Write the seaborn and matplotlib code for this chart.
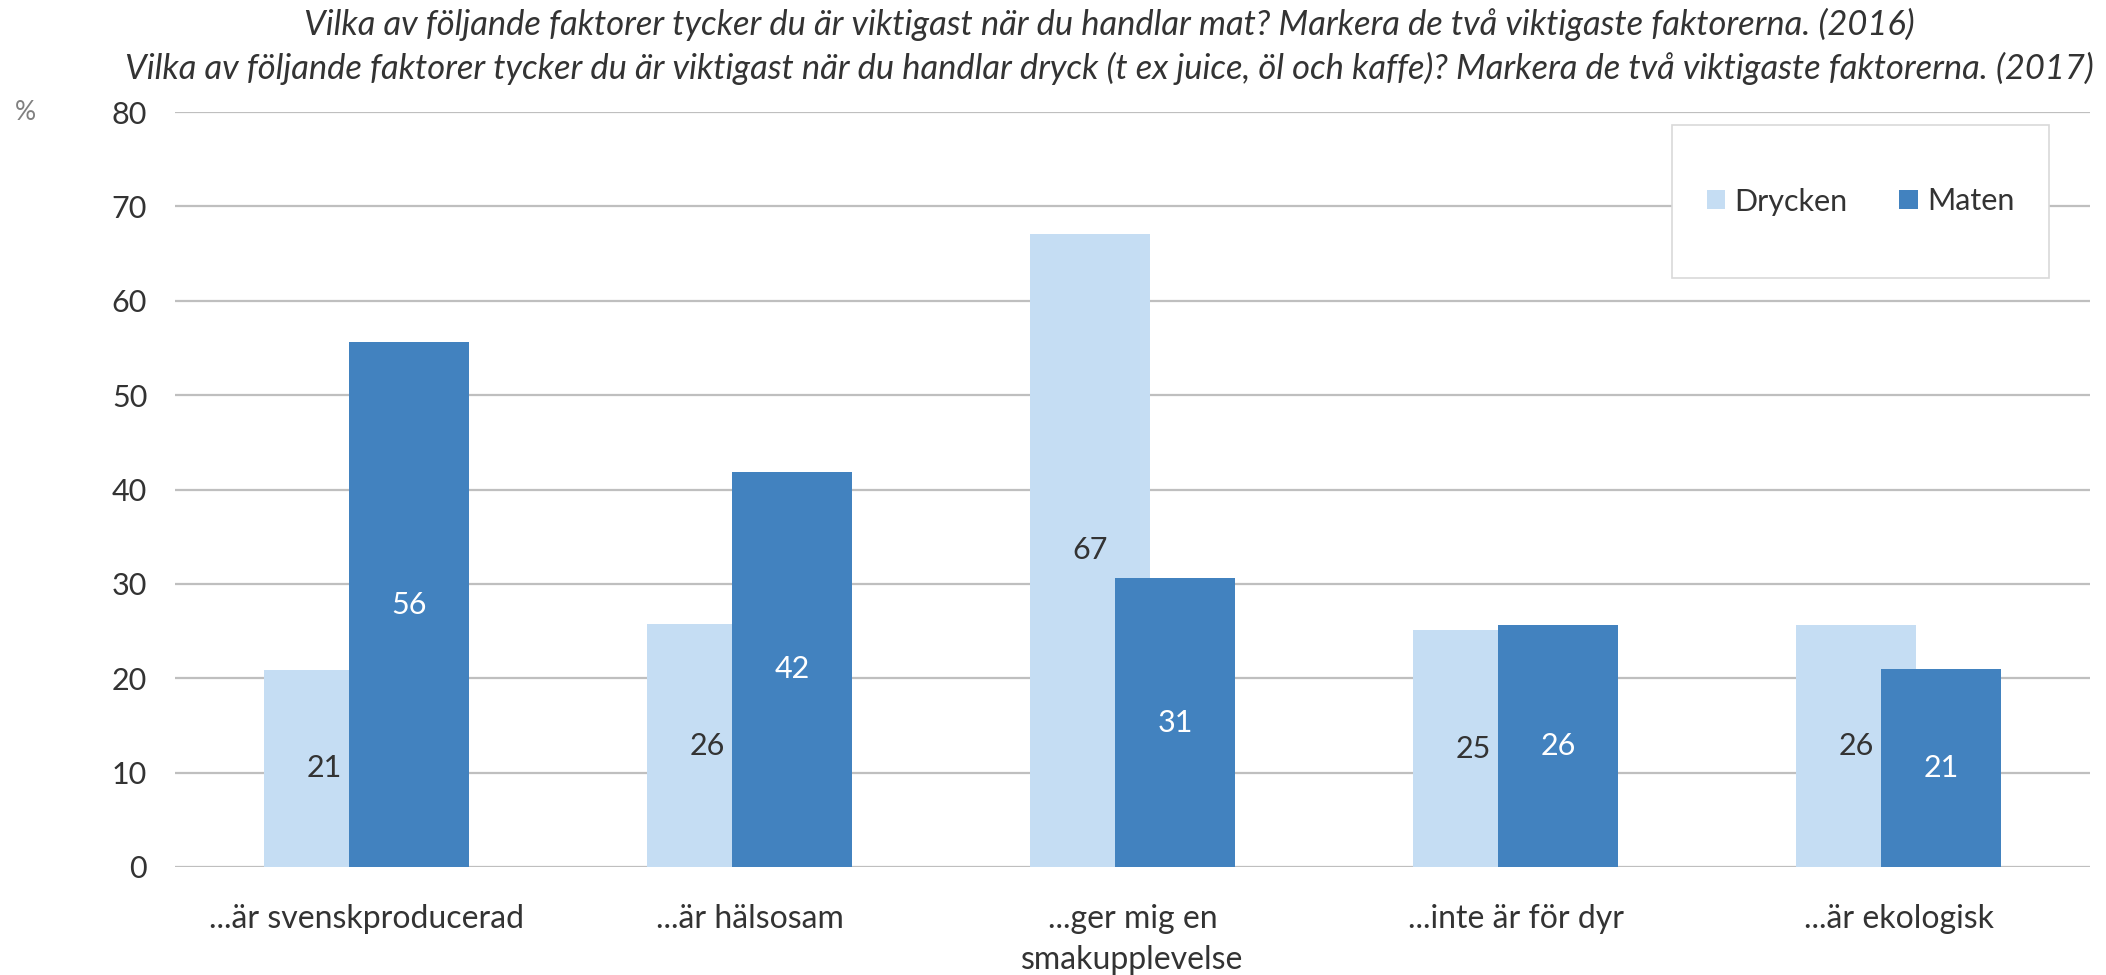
import matplotlib
matplotlib.use('Agg')
import matplotlib.pyplot as plt
from matplotlib.patches import Rectangle
import numpy as np
import pandas as pd
import seaborn as sns

########## data ##########
faktorer = ['...är svenskproducerad', '...är hälsosam', '...ger mig en\nsmakupplevelse',
            '...inte är för dyr', '...är ekologisk']
drycken = [20.9, 25.7, 67.1, 25.1, 25.6]
maten = [55.6, 41.9, 30.6, 25.6, 21.0]
grupper = ['Drycken', 'Maten']
yticks = [0, 10, 20, 30, 40, 50, 60, 70, 80]
titel = ('Vilka av följande faktorer tycker du är viktigast när du handlar mat? '
         'Markera de två viktigaste faktorerna. (2016)\n'
         'Vilka av följande faktorer tycker du är viktigast när du handlar dryck '
         '(t ex juice, öl och kaffe)? Markera de två viktigaste faktorerna. (2017)')

ljus = '#c5ddf3'
mork = '#4282bf'
text_col = '#333333'

df = pd.DataFrame({'Faktor': faktorer * 2,
                   'Procent': drycken + maten,
                   'Grupp': [grupper[0]] * len(faktorer) + [grupper[1]] * len(faktorer)})

sns.set_style('white')
plt.rcParams['font.family'] = ['Lato', 'DejaVu Sans']

fig = plt.figure(figsize=(21.06, 9.75), dpi=100)
ax = fig.add_axes([175/2106, 1-867/975, (2090-175)/2106, (867-112)/975])

sns.barplot(data=df, x='Faktor', y='Procent', hue='Grupp', hue_order=grupper,
            palette=[ljus, mork], width=0.444, linewidth=0, saturation=1, ax=ax)

# widen bars so they overlap like the original
bw = 0.311
for p in ax.patches:
    cx = p.get_x() + p.get_width()/2
    p.set_width(bw)
    p.set_x(cx - bw/2)

for cont, col in zip(ax.containers, [text_col, 'white']):
    ax.bar_label(cont, labels=[f'{v:.0f}' for v in cont.datavalues],
                 label_type='center', color=col, fontsize=22)

ax.set_xlim(-0.5, len(faktorer) - 0.5)
ax.set_ylim(0, 80)
ax.set_yticks(yticks)
ax.set_xlabel(''); ax.set_ylabel('')
for s in ax.spines.values():
    s.set_visible(False)
ax.yaxis.grid(True, color='#bfbfbf', linewidth=1.6)
ax.set_axisbelow(True)
ax.tick_params(axis='y', length=0, pad=20, labelsize=22, labelcolor=text_col)
ax.tick_params(axis='x', length=0, pad=27, labelsize=23, labelcolor=text_col)
for t in ax.get_xticklabels():
    t.set_linespacing(1.45)

# legend in a box
handles, labels = ax.get_legend_handles_labels()
ax.legend(handles, labels, loc='center', bbox_to_anchor=(1860.5/2106, 1-201.5/975),
          bbox_transform=fig.transFigure, ncol=2, frameon=False, fontsize=22,
          handlelength=0.6, handleheight=0.6, handletextpad=0.3, columnspacing=1.7,
          labelcolor=text_col)
ax.add_patch(Rectangle((1672/2106, 1-278/975), (2049-1672)/2106, (278-125)/975,
                       transform=fig.transFigure, facecolor='white', edgecolor='#d9d9d9',
                       linewidth=1.2, clip_on=False, zorder=3))
ax.get_legend().set_zorder(5)

fig.text(25/2106, 1-112/975, '%', fontsize=19, color='#808080', ha='center', va='center')
fig.text(1109/2106, 1-46/975, titel, fontsize=24.8, style='italic', color=text_col,
         ha='center', va='center', linespacing=1.4)

fig.savefig('out.png', dpi=100)
